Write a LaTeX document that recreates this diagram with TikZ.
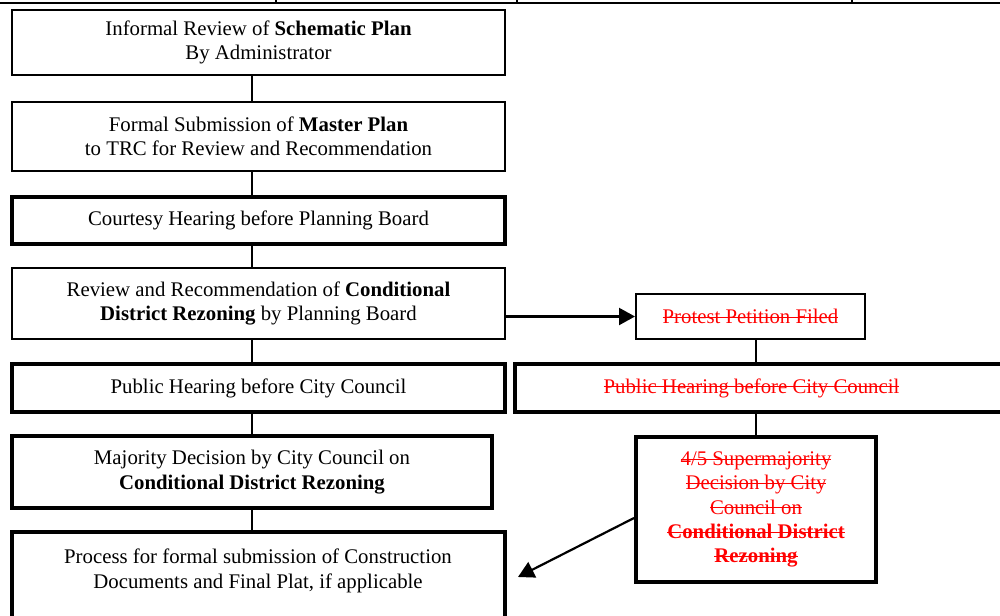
\documentclass[tikz,border=0pt]{standalone}
\usepackage{fontspec}
\setmainfont{Liberation Serif}
\usetikzlibrary{arrows.meta,calc}
\newsavebox\strkbox
\newcommand\strk[1]{\sbox\strkbox{#1}\mbox{\usebox\strkbox\hspace{-\wd\strkbox}\rule[0.27em]{\wd\strkbox}{0.5pt}}}
\begin{document}
\begin{tikzpicture}[x=0.5pt,y=-0.5pt,
  base/.style={draw, rectangle, inner sep=0pt, align=center, font=\fontsize{10.4}{12.2}\selectfont},
  thinbox/.style={base, line width=1pt},
  thickbox/.style={base, line width=2pt},
  conn/.style={line width=1pt},
  arr/.style={line width=1.1pt, -{Triangle[length=8pt,width=8.5pt]}},
  struck/.style={text=red},
  txt/.style={inner sep=0pt, align=center, font=\fontsize{10.4}{12.2}\selectfont}]
\useasboundingbox (0,0) rectangle (1000,615);
\clip (0,0) rectangle (1000,615);
% top rule
\draw[line width=1pt] (0,3) -- (1000,3);
\foreach \xx in {276,517,852} \draw[line width=0.6pt] (\xx,0) -- (\xx,3);
\coordinate (spine) at (252,0);
% left column
\node[thinbox, minimum width=246.5pt, minimum height=32.5pt] (b1) at (258.5,42.5)
  {Informal Review of \textbf{Schematic Plan}\\By Administrator};
\node[thinbox, minimum width=246.5pt, minimum height=34.5pt] (b2) at (258.5,136.5)
  {Formal Submission of \textbf{Master Plan}\\to TRC for Review and Recommendation};
\node[thickbox, minimum width=246.5pt, minimum height=23.5pt] (b3) at (258.5,220.5)
  {Courtesy Hearing before Planning Board};
\node[thinbox, minimum width=246.5pt, minimum height=35.5pt] (b4) at (258.5,303.5)
  {Review and Recommendation of \textbf{Conditional}\\\textbf{District Rezoning} by Planning Board};
\node[thickbox, minimum width=246.5pt, minimum height=24pt] (b6l) at (258.5,388)
  {Public Hearing before City Council};
\node[thickbox, minimum width=240pt, minimum height=36pt] (b7l) at (252,472)
  {Majority Decision by City Council on\\\textbf{Conditional District Rezoning}};
\node[thickbox, minimum width=246.5pt, minimum height=44pt] (b8) at (258.5,576) {};
\node[txt] (t8) at (258,571)
  {Process for formal submission of Construction\\Documents and Final Plat, if applicable};
% right column
\node[thinbox, struck, minimum width=114.5pt, minimum height=22.5pt] (b5) at (750.5,316.5)
  {\strk{Protest Petition Filed}};
\node[thickbox, struck, minimum width=243.5pt, minimum height=24pt] (b6r) at (758.5,388)
  {\hspace*{-7pt}\strk{Public Hearing before City Council}};
\node[thickbox, struck, minimum width=120pt, minimum height=72.5pt] (b7r) at (756,509.5)
  {\strk{4/5 Supermajority}\\\strk{Decision by City}\\\strk{Council on}\\
   \strk{\bfseries Conditional District}\\\strk{\bfseries Rezoning}};
% connectors
\draw[conn] (b1.south -| spine) -- (b2.north -| spine);
\draw[conn] (b2.south -| spine) -- (b3.north -| spine);
\draw[conn] (b3.south -| spine) -- (b4.north -| spine);
\draw[conn] (b4.south -| spine) -- (b6l.north -| spine);
\draw[conn] (b6l.south -| spine) -- (b7l.north -| spine);
\draw[conn] (b7l.south -| spine) -- (b8.north -| spine);
\draw[conn] (b5.south -| b7r) -- (b6r.north -| b7r);
\draw[conn] (b6r.south -| b7r) -- (b7r.north);
\draw[arr] (b4.east |- b5.west) -- (b5.west);
\coordinate (a2end) at (518,577);
\draw[arr] ($(b7r.west)+(0,8.5)$) -- (a2end);
\end{tikzpicture}
\end{document}
